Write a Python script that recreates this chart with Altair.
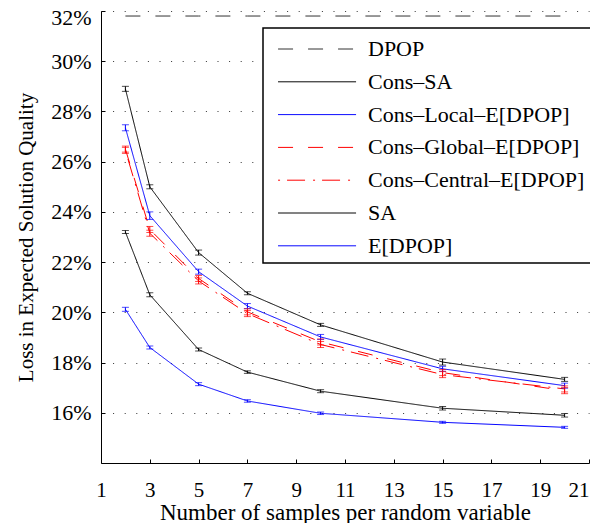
import altair as alt
import pandas as pd

x_vals = [2, 3, 5, 7, 10, 15, 20]
series_names = ["DPOP", "Cons\u2013SA", "Cons\u2013Local\u2013E[DPOP]", "Cons\u2013Global\u2013E[DPOP]",
                "Cons\u2013Central\u2013E[DPOP]", "SA", "E[DPOP]"]
dpop = [31.8, 31.8, 31.8, 31.8, 31.8, 31.8, 31.8]
cons_sa = [28.9, 25.0, 22.38, 20.76, 19.5, 18.02, 17.33]
cons_local = [27.35, 23.85, 21.62, 20.25, 19.02, 17.75, 17.08]
cons_global = [26.5, 23.3, 21.35, 20.02, 18.82, 17.6, 16.88]
cons_central = [26.45, 23.15, 21.25, 19.95, 18.72, 17.52, 16.95]
sa = [23.2, 20.7, 18.52, 17.62, 16.86, 16.18, 15.9]
edpop = [20.12, 18.6, 17.14, 16.47, 15.98, 15.62, 15.42]

err_cons_sa = [0.1, 0.08, 0.1, 0.06, 0.06, 0.12, 0.08]
err_cons_local = [0.12, 0.15, 0.1, 0.1, 0.1, 0.1, 0.1]
err_cons_global = [0.12, 0.12, 0.12, 0.12, 0.12, 0.12, 0.12]
err_cons_central = [0.12, 0.12, 0.12, 0.12, 0.12, 0.12, 0.12]
err_sa = [0.06, 0.08, 0.06, 0.05, 0.06, 0.07, 0.07]
err_edpop = [0.08, 0.06, 0.06, 0.05, 0.05, 0.04, 0.04]

colors = ["#333333", "black", "#0000ff", "#ff0000", "#ff0000", "black", "#0000ff"]
dashes = [[15, 15], [1, 0], [1, 0], [15, 15], [2, 7, 18, 8], [1, 0], [1, 0]]

values = [dpop, cons_sa, cons_local, cons_global, cons_central, sa, edpop]
errs = [None, err_cons_sa, err_cons_local, err_cons_global, err_cons_central, err_sa, err_edpop]

rows = []
erows = []
for name, vals, er in zip(series_names, values, errs):
    for i, (xv, yv) in enumerate(zip(x_vals, vals)):
        rows.append({"x": xv, "y": yv, "series": name})
        if er is not None:
            erows.append({"x": xv, "lo": yv - er[i], "hi": yv + er[i], "series": name})
df = pd.DataFrame(rows)
edf = pd.DataFrame(erows)

FONT = "Liberation Serif"
W, H = 488, 452

xscale = alt.Scale(domain=[1, 21], nice=False, zero=False)
yscale = alt.Scale(domain=[14, 32], nice=False, zero=False)
color_scale = alt.Scale(domain=series_names, range=colors)
dash_scale = alt.Scale(domain=series_names, range=dashes)

x_axis_main = alt.Axis(values=list(range(1, 22, 2)), title="Number of samples per random variable",
                       orient="bottom", ticks=False, grid=False, domainColor="black", domainWidth=1,
                       labelFont=FONT, labelFontSize=21, labelColor="black", labelBaseline="alphabetic",
                       labelPadding=33, labelFlush=False,
                       labelAlign={"condition": {"test": "datum.value == 21", "value": "right"}, "value": "center"},
                       titleFont=FONT, titleFontSize=23, titleFontWeight="normal", titleColor="black",
                       titleBaseline="alphabetic", titleY=56)
y_axis_main = alt.Axis(values=list(range(16, 33, 2)), title="Loss in Expected Solution Quality",
                       orient="left", ticks=False, grid=True, gridDash=[1, 10.6], gridColor="black",
                       gridOpacity=0.8, domainColor="black", domainWidth=1,
                       labelExpr="datum.value + '%'",
                       labelOffset={"condition": {"test": "datum.value == 32", "value": 6}, "value": 0},
                       labelFont=FONT, labelFontSize=22, labelColor="black", labelPadding=10,
                       titleFont=FONT, titleFontSize=21, titleFontWeight="normal", titleColor="black",
                       titleBaseline="alphabetic", titleX=-69, titleY=H / 2, titleAngle=270)
x_axis_ticks = alt.Axis(values=list(range(1, 22, 2)), orient="top", offset=-H, labels=False, domain=False,
                        grid=False, ticks=True, tickSize=4, tickColor="black", title=None)
y_axis_ticks = alt.Axis(values=list(range(16, 33, 2)), orient="right", offset=-W, labels=False, domain=False,
                        grid=False, ticks=True, tickSize=4, tickColor="black", title=None)

legend = alt.Legend(title=None, orient="none", legendX=162, legendY=17, symbolType="M-0.41,0H4.97",
                    symbolSize=841, symbolStrokeWidth=1, labelFont=FONT, labelFontSize=22,
                    labelColor="black", labelOffset=69, padding=6, strokeColor="black",
                    fillColor="white", rowPadding=6.8, symbolLimit=0, labelLimit=500)

lines = alt.Chart(df).mark_line(strokeWidth=1).encode(
    x=alt.X("x:Q", scale=xscale, axis=x_axis_main),
    y=alt.Y("y:Q", scale=yscale, axis=y_axis_main),
    color=alt.Color("series:N", scale=color_scale, legend=legend, sort=series_names),
    strokeDash=alt.StrokeDash("series:N", scale=dash_scale, legend=legend, sort=series_names),
    detail="series:N",
)

bars = alt.Chart(edf).mark_rule(strokeWidth=1).encode(
    x=alt.X("x:Q", scale=xscale, axis=x_axis_ticks),
    y=alt.Y("lo:Q", scale=yscale, axis=y_axis_ticks),
    y2="hi:Q",
    color=alt.Color("series:N", scale=color_scale, legend=None),
)
cap_lo = alt.Chart(edf).mark_tick(orient="horizontal", size=7, thickness=1).encode(
    x=alt.X("x:Q", scale=xscale, axis=None),
    y=alt.Y("lo:Q", scale=yscale, axis=None),
    color=alt.Color("series:N", scale=color_scale, legend=None),
)
cap_hi = alt.Chart(edf).mark_tick(orient="horizontal", size=7, thickness=1).encode(
    x=alt.X("x:Q", scale=xscale, axis=None),
    y=alt.Y("hi:Q", scale=yscale, axis=None),
    color=alt.Color("series:N", scale=color_scale, legend=None),
)

chart = alt.layer(lines, bars, cap_lo, cap_hi).resolve_axis(x="independent", y="independent").properties(
    width=W, height=H, autosize=alt.AutoSizeParams(type="none"),
    padding={"left": 93, "top": 3, "right": 1, "bottom": 60},
).configure_view(stroke=None).configure_legend(strokeWidth=1.5)

chart.save("out.html", embed_options={"renderer": "svg", "actions": False})
